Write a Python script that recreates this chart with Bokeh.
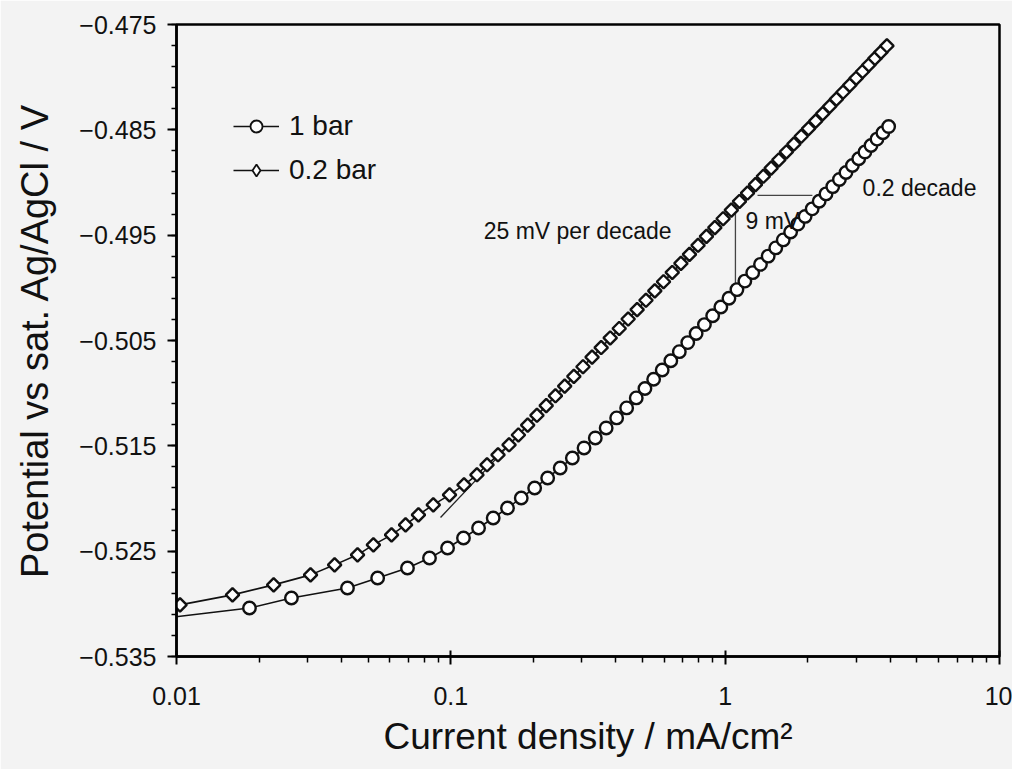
from bokeh.plotting import figure
from bokeh.models import (Range1d, FixedTicker, PrintfTickFormatter, CustomJSTickFormatter,
                          Label, Legend, LegendItem, ColumnDataSource)
from bokeh.embed import file_html
from bokeh.resources import INLINE
import math

# Polarisation curves: current density (mA/cm2) and potential (V vs sat. Ag/AgCl)
current_02bar = [0.0103, 0.0160, 0.0226, 0.0308, 0.0377, 0.0457, 0.0522, 0.0608, 0.0684, 0.0762,
                 0.0863, 0.0989, 0.1117, 0.1245, 0.1355, 0.1486, 0.1630, 0.1763, 0.1906, 0.2060,
                 0.2227, 0.2406, 0.2600, 0.2808, 0.3032, 0.3272, 0.3532, 0.3810, 0.4110, 0.4430,
                 0.4776, 0.5144, 0.5539, 0.5960, 0.6414, 0.6897, 0.7411, 0.7964, 0.8546, 0.9168,
                 0.9829, 1.0530, 1.1275, 1.2062, 1.2896, 1.3778, 1.4709, 1.5689, 1.6717, 1.7800,
                 1.8939, 2.0129, 2.1371, 2.2675, 2.4033, 2.5446, 2.6920, 2.8453, 3.0042, 3.1690,
                 3.3396, 3.5161, 3.6989, 3.8866]
potential_02bar = [-0.53010, -0.52915, -0.52820, -0.52725, -0.52630, -0.52535, -0.52440, -0.52345, -0.52250, -0.52155,
                   -0.52060, -0.51965, -0.51870, -0.51775, -0.51680, -0.51585, -0.51490, -0.51397, -0.51303, -0.51210,
                   -0.51118, -0.51025, -0.50933, -0.50841, -0.50749, -0.50658, -0.50567, -0.50476, -0.50386, -0.50296,
                   -0.50207, -0.50118, -0.50029, -0.49942, -0.49854, -0.49768, -0.49682, -0.49596, -0.49512, -0.49428,
                   -0.49344, -0.49262, -0.49180, -0.49100, -0.49020, -0.48941, -0.48863, -0.48786, -0.48710, -0.48635,
                   -0.48561, -0.48488, -0.48417, -0.48346, -0.48277, -0.48208, -0.48141, -0.48075, -0.48010, -0.47946,
                   -0.47884, -0.47822, -0.47762, -0.47702]

current_1bar = [0.0091, 0.01845, 0.02624, 0.0420, 0.0541, 0.0695, 0.0836, 0.0973, 0.1112, 0.1262,
                0.1427, 0.1609, 0.1806, 0.2021, 0.2254, 0.2504, 0.2773, 0.3059, 0.3362, 0.3683,
                0.4022, 0.4374, 0.4741, 0.5100, 0.5486, 0.5895, 0.6337, 0.6806, 0.7305, 0.7837,
                0.8403, 0.9004, 0.9643, 1.0321, 1.1038, 1.1797, 1.2602, 1.3451, 1.4348, 1.5290,
                1.6280, 1.7322, 1.8417, 1.9560, 2.0758, 2.2009, 2.3316, 2.4673, 2.6089, 2.7565,
                2.9091, 3.0678, 3.2315, 3.4010, 3.5764, 3.7573, 3.9437]
potential_1bar = [-0.53135, -0.53040, -0.52945, -0.52850, -0.52755, -0.52660, -0.52565, -0.52470, -0.52375, -0.52280,
                  -0.52185, -0.52090, -0.51995, -0.51900, -0.51805, -0.51710, -0.51615, -0.51520, -0.51425, -0.51330,
                  -0.51235, -0.51140, -0.51045, -0.50956, -0.50868, -0.50780, -0.50692, -0.50606, -0.50520, -0.50434,
                  -0.50349, -0.50265, -0.50182, -0.50099, -0.50017, -0.49936, -0.49856, -0.49777, -0.49699, -0.49621,
                  -0.49545, -0.49470, -0.49395, -0.49322, -0.49250, -0.49178, -0.49108, -0.49039, -0.48971, -0.48905,
                  -0.48839, -0.48775, -0.48711, -0.48649, -0.48588, -0.48528, -0.48469]

x_ticks = [0.01, 0.1, 1, 10]
y_ticks = [-0.535, -0.525, -0.515, -0.505, -0.495, -0.485, -0.475]

# Tafel line along the 0.2 bar curve
tafel_current = [0.0917, 1.0]
tafel_potential = [-0.5218, -0.49327]

# 9 mV gap between the curves at fixed current
gap_current = 1.09
gap_top = -0.4920
gap_mv = 0.009

# 0.2 decade gap between the curves at fixed potential
shift_potential = -0.49123
shift_left_current = 1.312
shift_decades = 0.2

FONT = "Liberation Sans"
INK = "#111111"
BG = "#f3f3f3"

p = figure(width=1012, height=769, x_axis_type="log",
           x_range=Range1d(0.01, 10), y_range=Range1d(-0.535, -0.475),
           output_backend="svg", toolbar_location=None,
           min_border_left=176, min_border_right=13,
           min_border_top=24, min_border_bottom=113)
p.background_fill_color = BG
p.border_fill_color = BG
p.grid.visible = False
p.outline_line_color = "black"
p.outline_line_width = 2.5

# axes
minor_x = [m * 10 ** e for e in (-2, -1, 0) for m in range(2, 10)]
minor_y = [round(-0.535 + 0.002 * i, 3) for i in range(31)]
p.xaxis.ticker = FixedTicker(ticks=x_ticks, minor_ticks=minor_x)
p.yaxis.ticker = FixedTicker(ticks=y_ticks, minor_ticks=minor_y)
p.xaxis.formatter = PrintfTickFormatter(format="%g")
p.yaxis.formatter = CustomJSTickFormatter(
    code="return (tick < 0 ? '\\u2212' : '') + Math.abs(tick).toFixed(3);")

for ax in (p.xaxis, p.yaxis):
    ax.axis_line_width = 2.5
    ax.axis_line_color = "black"
    ax.major_tick_line_width = 2
    ax.minor_tick_line_width = 1.5
    ax.major_tick_line_color = "black"
    ax.minor_tick_line_color = "black"
    ax.major_label_text_font = FONT
    ax.major_label_text_font_size = "25px"
    ax.major_label_text_color = INK
    ax.axis_label_text_font = FONT
    ax.axis_label_text_font_style = "normal"
    ax.axis_label_text_color = INK

p.xaxis.major_tick_in = 6
p.xaxis.major_tick_out = 8
p.xaxis.minor_tick_in = 0
p.xaxis.minor_tick_out = 6
p.xaxis.major_label_standoff = 22
p.xaxis.axis_label_standoff = 8
p.xaxis.axis_label_text_font_size = "37px"
p.xaxis.axis_label = "Current density / mA/cm\u00b2"

p.yaxis.major_tick_in = 0
p.yaxis.major_tick_out = 9
p.yaxis.minor_tick_in = 0
p.yaxis.minor_tick_out = 5
p.yaxis.major_label_standoff = 11
p.yaxis.axis_label_standoff = 20
p.yaxis.axis_label_text_font_size = "38px"
p.yaxis.axis_label = "Potential vs sat. Ag/AgCl / V"

# curves
src_02 = ColumnDataSource(dict(x=current_02bar, y=potential_02bar))
src_1 = ColumnDataSource(dict(x=current_1bar, y=potential_1bar))

line_1 = p.line("x", "y", source=src_1, line_color=INK, line_width=1.6)
line_02 = p.line("x", "y", source=src_02, line_color=INK, line_width=1.6)

# annotation lines
p.line(tafel_current, tafel_potential, line_color="#222222", line_width=1.3)
p.line([gap_current, gap_current], [gap_top, gap_top - gap_mv],
       line_color="#444444", line_width=1.3)
p.line([shift_left_current, shift_left_current * 10 ** shift_decades],
       [shift_potential, shift_potential], line_color="#444444", line_width=1.3)

p.scatter("x", "y", source=src_1, marker="circle", size=12.5,
          fill_color="white", line_color=INK, line_width=2.4)
p.scatter("x", "y", source=src_02, marker="square", angle=math.pi / 4, size=9.5,
          fill_color="white", line_color=INK, line_width=2.4)

# legend keys drawn with smaller markers (renderers hidden in the plot area)
key_mark_1 = p.scatter("x", "y", source=src_1, marker="circle", size=9,
                       fill_color="white", line_color=INK, line_width=1.8, visible=False)
key_mark_02 = p.scatter("x", "y", source=src_02, marker="diamond", size=11,
                        fill_color="white", line_color=INK, line_width=1.8, visible=False)
legend = Legend(items=[LegendItem(label="1 bar", renderers=[line_1, key_mark_1]),
                       LegendItem(label="0.2 bar", renderers=[line_02, key_mark_02])],
                location=(57, 470), orientation="vertical")
legend.border_line_color = None
legend.background_fill_alpha = 0
legend.label_text_font = FONT
legend.label_text_font_size = "28px"
legend.label_text_color = INK
legend.glyph_width = 46
legend.glyph_height = 30
legend.label_standoff = 10
legend.spacing = 12
legend.padding = 0
legend.margin = 0
p.add_layout(legend)

# annotation texts
for txt, x, y, align in [("25 mV per decade", 0.29, -0.4946, "center"),
                         ("9 mV", 1.187, -0.49361, "left"),
                         ("0.2 decade", 3.17, -0.49048, "left")]:
    p.add_layout(Label(x=x, y=y, text=txt, text_align=align, text_baseline="middle",
                       text_font=FONT, text_font_size="23px", text_color=INK))

open("out.html", "w").write(file_html(p, INLINE))
